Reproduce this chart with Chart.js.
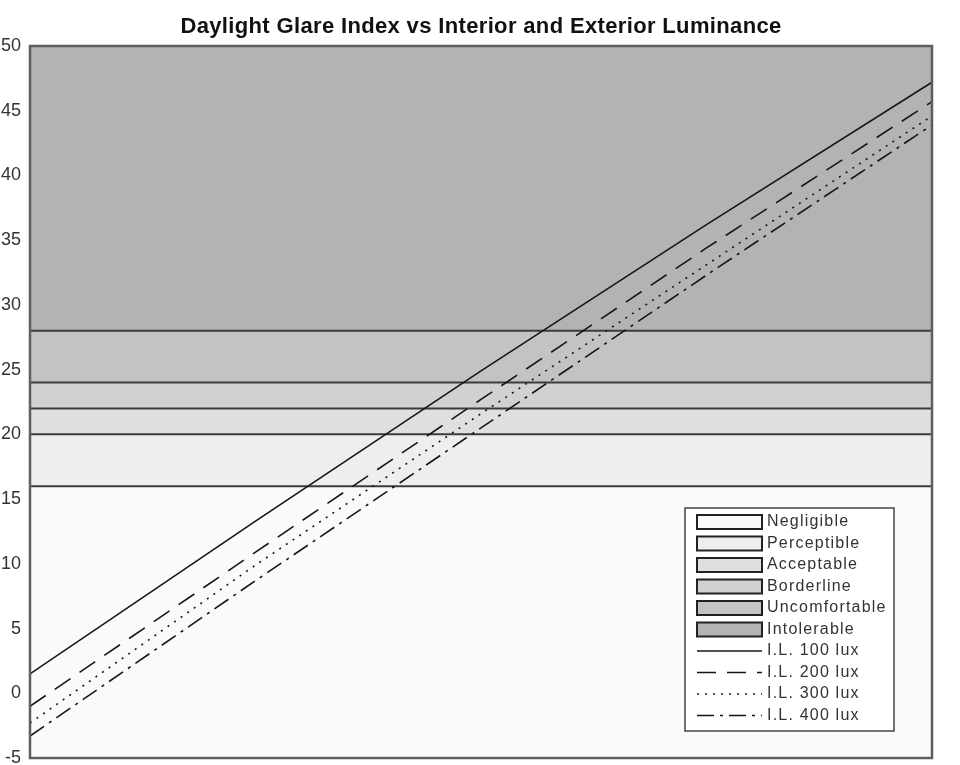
<!DOCTYPE html>
<html>
<head>
<meta charset="utf-8">
<title>Daylight Glare Index</title>
<script src="https://cdn.jsdelivr.net/npm/chart.js@4.4.1/dist/chart.umd.min.js"></script>
<style>
  html, body { margin: 0; padding: 0; background: #ffffff; }
  #wrap { width: 960px; height: 765px; position: relative; }
</style>
</head>
<body>
<div id="wrap"><canvas id="grafica"></canvas></div>
<script>
// =============================================
// DATOS
// =============================================

// posiciones a lo largo del eje de luminancia exterior (sin etiquetas en la imagen)
const posicionesX = [0, 25, 50, 75, 100];

// DGI para cada iluminancia interior
const dgi100 = [1.5, 13.3, 24.9, 36.2, 47.2];
const dgi200 = [-1.0, 10.9, 22.7, 34.4, 45.7];
const dgi300 = [-2.3, 9.9, 21.6, 33.1, 44.6];
const dgi400 = [-3.3, 8.7, 20.5, 32.3, 43.9];
const etiquetasLineas = ["I.L. 100 lux", "I.L. 200 lux", "I.L. 300 lux", "I.L. 400 lux"];

// bandas de sensación de deslumbramiento
const limitesBandas = [-5, 16, 20, 22, 24, 28, 50];
const nombresBandas = ["Negligible", "Perceptible", "Acceptable", "Borderline", "Uncomfortable", "Intolerable"];

// eje Y
const ticksY = [-5, 0, 5, 10, 15, 20, 25, 30, 35, 40, 45, 50];

const titulo = "Daylight Glare Index vs Interior and Exterior Luminance";

// =============================================
// ESTILOS
// =============================================

const coloresBandas = ["#fafafa", "#eeeeee", "#dfdfdf", "#d1d1d1", "#c3c3c3", "#b3b3b3"];
const trazosLineas = [[], [19, 11], [2, 6], [17, 6, 3, 6]];
const colorLinea = "#161616";
const fuente = "'Liberation Sans', Arial, Helvetica, sans-serif";

// =============================================
// CONSTRUCCIÓN DE DATASETS
// =============================================

function puntos(valores) {
  return valores.map((v, i) => ({ x: posicionesX[i], y: v }));
}

function datasetsBandas() {
  const xMin = posicionesX[0];
  const xMax = posicionesX[posicionesX.length - 1];
  return limitesBandas.map((lim, i) => {
    const esBorde = i === 0 || i === limitesBandas.length - 1;
    return {
      label: "limite " + lim,
      data: [{ x: xMin, y: lim }, { x: xMax, y: lim }],
      borderColor: "#3c3c3c",
      borderWidth: esBorde ? 0 : 2,
      backgroundColor: i === 0 ? "transparent" : coloresBandas[i - 1],
      fill: i === 0 ? false : "-1",
      pointRadius: 0,
      order: 2,
    };
  });
}

function datasetsLineas() {
  const series = [dgi100, dgi200, dgi300, dgi400];
  return series.map((serie, i) => ({
    label: etiquetasLineas[i],
    data: puntos(serie),
    borderColor: colorLinea,
    borderWidth: 1.6,
    borderDash: trazosLineas[i],
    fill: false,
    pointRadius: 0,
    tension: 0,
    order: 0,
  }));
}

// =============================================
// PLUGINS: TÍTULO, MARCO Y LEYENDA
// =============================================

const tituloPlugin = {
  id: "titulo",
  afterDraw(chart) {
    const { ctx, chartArea } = chart;
    ctx.save();
    ctx.font = "bold 22px " + fuente;
    ctx.fillStyle = "#111111";
    ctx.textAlign = "center";
    ctx.textBaseline = "alphabetic";
    if ("letterSpacing" in ctx) ctx.letterSpacing = "0.35px";
    ctx.fillText(titulo, (chartArea.left + chartArea.right) / 2, chartArea.top - 13);
    ctx.restore();
  },
};

const marcoPlugin = {
  id: "marco",
  afterDraw(chart) {
    const { ctx, chartArea } = chart;
    ctx.save();
    ctx.strokeStyle = "#5e5e5e";
    ctx.lineWidth = 2.5;
    ctx.strokeRect(chartArea.left, chartArea.top, chartArea.right - chartArea.left, chartArea.bottom - chartArea.top);
    ctx.restore();
  },
};

const leyendaPlugin = {
  id: "leyendaInterna",
  afterDraw(chart) {
    const { ctx, chartArea } = chart;
    const ancho = 209, alto = 223;
    const x0 = chartArea.right - 38 - ancho;
    const y0 = chartArea.bottom - 27 - alto;
    const paso = 21.5;

    ctx.save();
    ctx.fillStyle = "#ffffff";
    ctx.fillRect(x0, y0, ancho, alto);
    ctx.strokeStyle = "#444444";
    ctx.lineWidth = 1.5;
    ctx.strokeRect(x0, y0, ancho, alto);

    ctx.font = "16px " + fuente;
    ctx.textBaseline = "middle";
    ctx.textAlign = "left";
    if ("letterSpacing" in ctx) ctx.letterSpacing = "1.2px";

    let y = y0 + 14;
    // cajas de bandas
    nombresBandas.forEach((nombre, i) => {
      ctx.fillStyle = coloresBandas[i];
      ctx.fillRect(x0 + 12, y - 7, 65, 14);
      ctx.strokeStyle = "#222222";
      ctx.lineWidth = 2;
      ctx.setLineDash([]);
      ctx.strokeRect(x0 + 12, y - 7, 65, 14);
      ctx.fillStyle = "#333333";
      ctx.fillText(nombre, x0 + 82, y);
      y += paso;
    });
    // muestras de lineas
    etiquetasLineas.forEach((etq, i) => {
      ctx.strokeStyle = colorLinea;
      ctx.lineWidth = 1.6;
      ctx.setLineDash(trazosLineas[i]);
      ctx.beginPath();
      ctx.moveTo(x0 + 12, y);
      ctx.lineTo(x0 + 77, y);
      ctx.stroke();
      ctx.setLineDash([]);
      ctx.fillStyle = "#333333";
      ctx.fillText(etq, x0 + 82, y);
      y += paso;
    });
    ctx.restore();
  },
};

// =============================================
// GRÁFICA
// =============================================

document.addEventListener("DOMContentLoaded", function () {
  const ctx = document.getElementById("grafica").getContext("2d");
  new Chart(ctx, {
    type: "line",
    data: {
      datasets: datasetsLineas().concat(datasetsBandas()),
    },
    options: {
      responsive: true,
      maintainAspectRatio: false,
      animation: false,
      layout: { padding: { left: 0, right: 28, top: 46, bottom: 7 } },
      plugins: {
        legend: { display: false },
        tooltip: { enabled: false },
        title: { display: false },
      },
      scales: {
        x: {
          type: "linear",
          display: false,
          min: posicionesX[0],
          max: posicionesX[posicionesX.length - 1],
        },
        y: {
          type: "linear",
          min: ticksY[0],
          max: ticksY[ticksY.length - 1],
          grid: { display: false, drawTicks: false },
          border: { display: false },
          afterBuildTicks: (escala) => {
            escala.ticks = ticksY.map((v) => ({ value: v }));
          },
          afterFit: (escala) => {
            // ancho fijo del eje y etiquetas extremas fuera del area
            escala.width = 30;
            escala.paddingTop = 0;
            escala.paddingBottom = 0;
          },
          ticks: {
            color: "#333333",
            padding: 9,
            font: { family: fuente, size: 18 },
          },
        },
      },
    },
    plugins: [marcoPlugin, leyendaPlugin, tituloPlugin],
  });
});
</script>
</body>
</html>
